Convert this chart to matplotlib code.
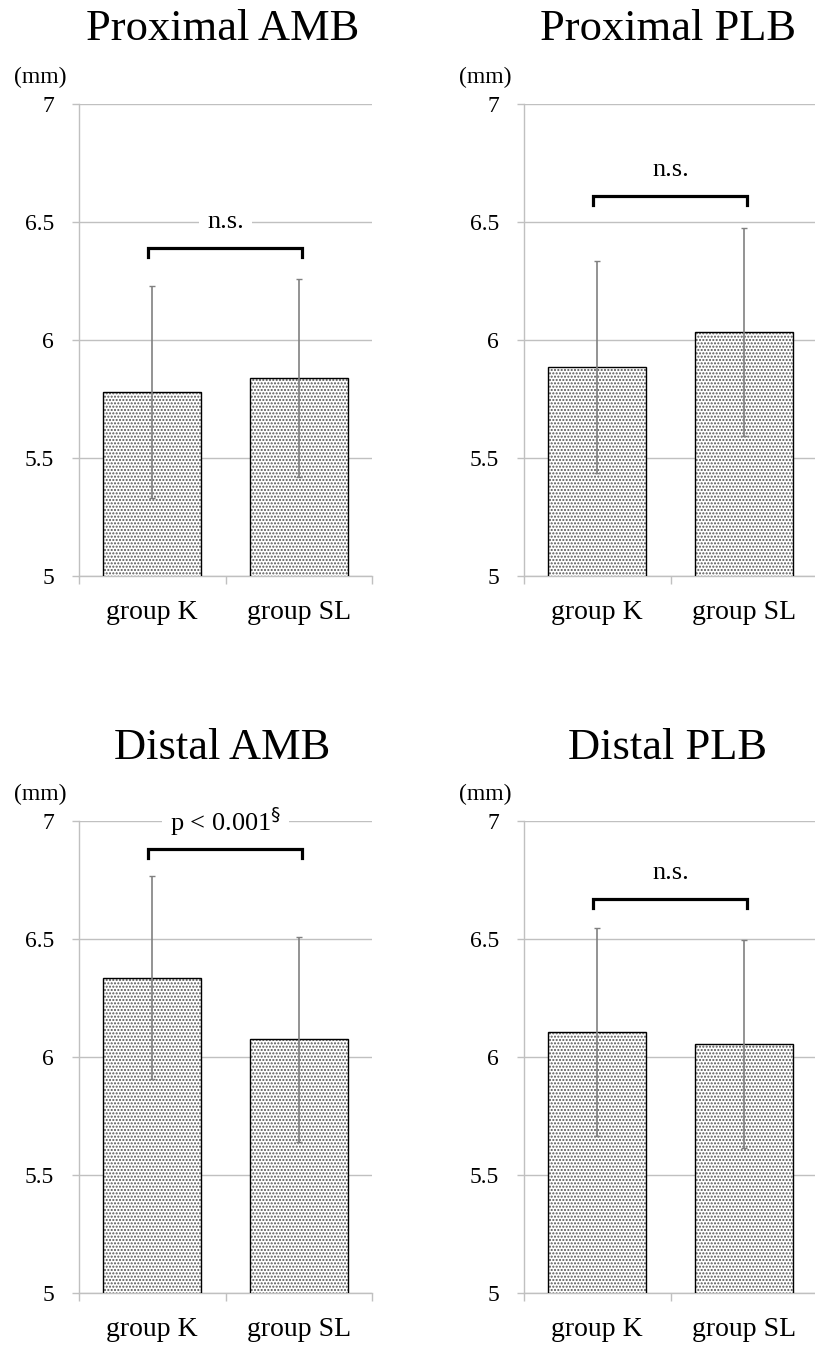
import matplotlib
matplotlib.use("Agg")
import matplotlib.pyplot as plt

plt.rcParams['font.family'] = ['Liberation Serif', 'DejaVu Serif']
plt.rcParams['hatch.linewidth'] = 1.0
plt.rcParams['hatch.color'] = '#555555'

categories = ["group K", "group SL"]
titles = ["Proximal AMB", "Proximal PLB", "Distal AMB", "Distal PLB"]
means = [[5.78, 5.84], [5.885, 6.035], [6.335, 6.075], [6.105, 6.055]]
sds = [[0.45, 0.42], [0.45, 0.44], [0.43, 0.435], [0.44, 0.44]]
sig_labels = ["n.s.", "n.s.", "p < 0.001$^{\\S}$", "n.s."]
bracket_y = [6.39, 6.61, 6.88, 6.67]
label_y = [6.5, 6.72, 7.0, 6.78]
yticks = [5, 5.5, 6, 6.5, 7]
ytick_labels = ["5", "5.5", "6", "6.5", "7"]

W, H = 815, 1346
fig = plt.figure(figsize=(W / 100, H / 100), dpi=100)

# panel rectangles in pixels: left, top
panels = [(79, 104), (524, 104), (79, 821), (524, 821)]
pw, ph = 293, 472
title_y = [29, 29, 748, 748]

grid_c = '#c0c0c0'
for i, (lx, ty) in enumerate(panels):
    ax = fig.add_axes([lx / W, (H - ty - ph) / H, pw / W, ph / H])
    x = [0, 1]
    ax.set_xlim(-0.5, 1.5)
    ax.set_ylim(5, 7)
    ax.set_yticks(yticks)
    ax.set_yticklabels(ytick_labels, fontsize=17)
    ax.yaxis.grid(True, color=grid_c, lw=1.0)
    ax.set_axisbelow(True)
    for s in ['top', 'right']:
        ax.spines[s].set_visible(False)
    ax.spines['left'].set_color(grid_c)
    ax.spines['bottom'].set_color(grid_c)
    ax.spines['left'].set_linewidth(1.0)
    ax.spines['bottom'].set_linewidth(1.0)
    ax.tick_params(axis='y', length=5, width=1.0, color=grid_c, pad=13)
    ax.set_xticks(x)
    ax.set_xticklabels(categories, fontsize=20)
    ax.set_xticks([-0.5, 0.5, 1.5], minor=True)
    ax.tick_params(axis='x', which='major', length=0, pad=17)
    ax.tick_params(axis='x', which='minor', length=6, width=1.0, color=grid_c)

    ax.bar(x, means[i], width=0.67, color='white', hatch='.....',
           edgecolor='#555555', linewidth=0, zorder=2)
    ax.bar(x, means[i], width=0.67, fill=False, edgecolor='black',
           linewidth=1.0, zorder=3)
    ax.errorbar(x, means[i], yerr=sds[i], fmt='none', ecolor='#808080',
                elinewidth=1.2, capsize=2.5, capthick=1.0, zorder=4)

    by = bracket_y[i]
    d = 0.038
    ax.plot([-0.03, -0.03, 1.02, 1.02], [by - d, by, by, by - d],
            color='black', lw=2.3, solid_joinstyle='miter', zorder=5)
    ax.text(0.5, label_y[i], sig_labels[i], ha='center', va='center',
            fontsize=19, zorder=6,
            bbox=dict(boxstyle='square,pad=0.3', fc='white', ec='none'))

    fig.text((lx + pw / 2 - 3) / W, 1 - title_y[i] / H, titles[i],
             ha='center', va='center', fontsize=32)
    fig.text((lx - 38.5) / W, 1 - (ty - 27) / H, "(mm)", ha='center',
             va='center', fontsize=17)

fig.savefig("out.png", dpi=100)
